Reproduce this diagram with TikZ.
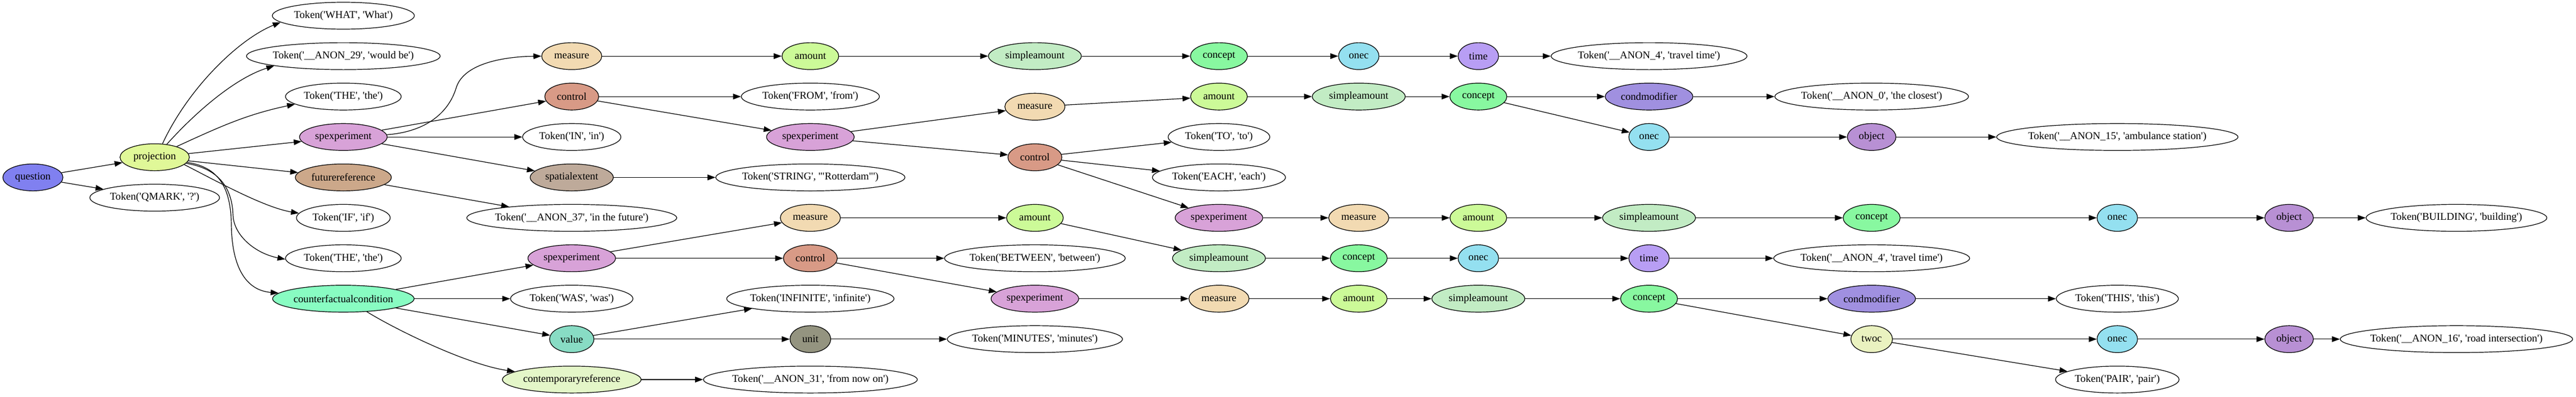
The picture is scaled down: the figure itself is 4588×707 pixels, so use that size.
\documentclass[tikz,border=0pt]{standalone}
\usepackage{fontspec}
\setmainfont{Liberation Serif}[Ligatures=TeXOff]
\usetikzlibrary{shapes.geometric,arrows.meta}
\definecolor{cquest}{HTML}{8080F0}
\definecolor{cproj}{HTML}{E0F898}
\definecolor{cspx}{HTML}{D8A2D8}
\definecolor{cfut}{HTML}{CCA88A}
\definecolor{ccfc}{HTML}{88FCC2}
\definecolor{cmeas}{HTML}{F2DAB2}
\definecolor{cctrl}{HTML}{D89A86}
\definecolor{cspat}{HTML}{BEAA9A}
\definecolor{cval}{HTML}{88DCC4}
\definecolor{ccont}{HTML}{E4F6C8}
\definecolor{camt}{HTML}{CCFA98}
\definecolor{csamt}{HTML}{C2ECC4}
\definecolor{cconc}{HTML}{88F8A0}
\definecolor{conec}{HTML}{94E0F0}
\definecolor{ctime}{HTML}{B89EF4}
\definecolor{ccmod}{HTML}{A090E0}
\definecolor{cobj}{HTML}{B890D4}
\definecolor{cunit}{HTML}{949480}
\definecolor{ctwoc}{HTML}{EAF2C0}
\newcommand{\lb}[1]{\makebox[0pt]{#1}}
\begin{document}
\begin{tikzpicture}[x=0.75pt,y=-0.75pt,
  nd/.style={ellipse, draw=black, line width=0.9pt, minimum height=36pt, inner sep=0pt, font=\fontsize{14}{16}\selectfont},
  tok/.style={nd, fill=white, minimum width=#1},
  squest/.style={nd, fill=cquest, minimum width=80.25pt},
  sproj/.style={nd, fill=cproj, minimum width=92.6pt},
  sspx/.style={nd, fill=cspx, minimum width=117pt},
  sfut/.style={nd, fill=cfut, minimum width=128.25pt},
  scfc/.style={nd, fill=ccfc, minimum width=189pt},
  smeas/.style={nd, fill=cmeas, minimum width=80.25pt},
  sctrl/.style={nd, fill=cctrl, minimum width=72pt},
  sspat/.style={nd, fill=cspat, minimum width=111pt},
  sval/.style={nd, fill=cval, minimum width=59.25pt},
  scont/.style={nd, fill=ccont, minimum width=185.25pt},
  samt/.style={nd, fill=camt, minimum width=75.75pt},
  ssamt/.style={nd, fill=csamt, minimum width=124.1pt},
  sconc/.style={nd, fill=cconc, minimum width=76.1pt},
  sonec/.style={nd, fill=conec, minimum width=54pt},
  stime/.style={nd, fill=ctime, minimum width=54pt},
  scmod/.style={nd, fill=ccmod, minimum width=117pt},
  sobj/.style={nd, fill=cobj, minimum width=64.9pt},
  sunit/.style={nd, fill=cunit, minimum width=54.4pt},
  stwoc/.style={nd, fill=ctwoc, minimum width=55.5pt},
  edge/.style={draw=black, line width=0.9pt, -{Triangle[length=10.5pt,width=7.5pt]}},
]
\useasboundingbox (0,0) rectangle (4588,707);
% column 0/1
\node[squest] (question) at (58.6,316.4) {\lb{question}};
\node[sproj] (proj) at (275.5,280.4) {\lb{projection}};
\node[tok=173.25pt] (qmark) at (275.5,352.5) {\lb{Token('QMARK', '?')}};
% column 2
\node[tok=189.75pt] (what) at (611.5,28) {\lb{Token('WHAT', 'What')}};
\node[tok=258.75pt] (anon29) at (611.5,100.1) {\lb{Token('\_\_ANON\_29', 'would be')}};
\node[tok=154.5pt] (the1) at (611.5,172.2) {\lb{Token('THE', 'the')}};
\node[sspx] (spx1) at (611.5,244.3) {\lb{spexperiment}};
\node[sfut] (futref) at (611.5,316.4) {\lb{futurereference}};
\node[tok=125.25pt] (tif) at (611.5,388.5) {\lb{Token('IF', 'if')}};
\node[tok=154.5pt] (the2) at (611.5,460.6) {\lb{Token('THE', 'the')}};
\node[scfc] (cfc) at (611.5,532.7) {\lb{counterfactualcondition}};
% column 3
\node[smeas] (meas1) at (1018.3,100.1) {\lb{measure}};
\node[sctrl] (ctrl1) at (1018.3,172.2) {\lb{control}};
\node[tok=131.25pt] (tin) at (1018.3,244.3) {\lb{Token('IN', 'in')}};
\node[sspat] (spat) at (1018.3,316.4) {\lb{spatialextent}};
\node[tok=280.5pt] (anon37) at (1018.3,388.5) {\lb{Token('\_\_ANON\_37', 'in the future')}};
\node[sspx] (spx2) at (1018.3,460.6) {\lb{spexperiment}};
\node[tok=163.5pt] (was) at (1018.3,532.7) {\lb{Token('WAS', 'was')}};
\node[sval] (value) at (1018.3,604.8) {\lb{value}};
\node[scont] (contemp) at (1018.3,676.9) {\lb{contemporaryreference}};
% column 4
\node[samt] (amt1) at (1443.3,100.1) {\lb{amount}};
\node[tok=184.5pt] (from) at (1443.3,172.2) {\lb{Token('FROM', 'from')}};
\node[sspx] (spx3) at (1443.3,244.3) {\lb{spexperiment}};
\node[tok=252.75pt] (rott) at (1443.3,316.4) {\lb{Token('STRING', '"Rotterdam"')}};
\node[smeas] (meas2) at (1443.3,388.5) {\lb{measure}};
\node[sctrl] (ctrl2) at (1443.3,460.6) {\lb{control}};
\node[tok=223.5pt] (infin) at (1443.3,532.7) {\lb{Token('INFINITE', 'infinite')}};
\node[sunit] (unit) at (1443.3,604.8) {\lb{unit}};
\node[tok=285.75pt] (anon31) at (1443.3,676.9) {\lb{Token('\_\_ANON\_31', 'from now on')}};
% column 5
\node[ssamt] (samt1) at (1843.2,100.1) {\lb{simpleamount}};
\node[smeas] (meas3) at (1843.2,190.3) {\lb{measure}};
\node[sctrl] (ctrl3) at (1843.2,280.5) {\lb{control}};
\node[samt] (amt2) at (1843.2,388.5) {\lb{amount}};
\node[tok=241.5pt] (betw) at (1843.2,460.6) {\lb{Token('BETWEEN', 'between')}};
\node[sspx] (spx4) at (1843.2,532.7) {\lb{spexperiment}};
\node[tok=234pt] (minutes) at (1843.2,604.8) {\lb{Token('MINUTES', 'minutes')}};
% column 6
\node[sconc] (conc1) at (2171,100.1) {\lb{concept}};
\node[samt] (amt3) at (2171,172.2) {\lb{amount}};
\node[tok=135.75pt] (tto) at (2171,244.3) {\lb{Token('TO', 'to')}};
\node[tok=177.75pt] (each) at (2171,316.4) {\lb{Token('EACH', 'each')}};
\node[sspx] (spx5) at (2171,388.5) {\lb{spexperiment}};
\node[ssamt] (samt2) at (2171,460.6) {\lb{simpleamount}};
\node[smeas] (meas4) at (2171,532.7) {\lb{measure}};
% column 7
\node[sonec] (onec1) at (2420,100.1) {\lb{onec}};
\node[ssamt] (samt3) at (2420,172.2) {\lb{simpleamount}};
\node[smeas] (meas5) at (2420,388.5) {\lb{measure}};
\node[sconc] (conc2) at (2420,460.6) {\lb{concept}};
\node[samt] (amt4) at (2420,532.7) {\lb{amount}};
% column 8
\node[stime] (time1) at (2633,100.1) {\lb{time}};
\node[sconc] (conc3) at (2633,172.2) {\lb{concept}};
\node[samt] (amt5) at (2633,388.5) {\lb{amount}};
\node[sonec] (onec2) at (2633,460.6) {\lb{onec}};
\node[ssamt] (samt4) at (2633,532.7) {\lb{simpleamount}};
% column 9
\node[tok=261.75pt] (anon4a) at (2937,100.1) {\lb{Token('\_\_ANON\_4', 'travel time')}};
\node[scmod] (cmod1) at (2937,172.2) {\lb{condmodifier}};
\node[sonec] (onec3) at (2937,244.3) {\lb{onec}};
\node[ssamt] (samt5) at (2937,388.5) {\lb{simpleamount}};
\node[stime] (time2) at (2937,460.6) {\lb{time}};
\node[sconc] (conc4) at (2937,532.7) {\lb{concept}};
% column 10
\node[tok=258.75pt] (anon0) at (3333.5,172.2) {\lb{Token('\_\_ANON\_0', 'the closest')}};
\node[sobj] (obj1) at (3333.5,244.3) {\lb{object}};
\node[sconc] (conc5) at (3333.5,388.5) {\lb{concept}};
\node[tok=261.75pt] (anon4b) at (3333.5,460.6) {\lb{Token('\_\_ANON\_4', 'travel time')}};
\node[scmod] (cmod2) at (3333.5,532.7) {\lb{condmodifier}};
\node[stwoc] (twoc) at (3333.5,604.8) {\lb{twoc}};
% column 11
\node[tok=322.5pt] (anon15) at (3771,244.3) {\lb{Token('\_\_ANON\_15', 'ambulance station')}};
\node[sonec] (onec4) at (3771,388.5) {\lb{onec}};
\node[tok=163.1pt] (this) at (3771,532.7) {\lb{Token('THIS', 'this')}};
\node[sonec] (onec5) at (3771,604.8) {\lb{onec}};
\node[tok=165pt] (pair) at (3771,676.9) {\lb{Token('PAIR', 'pair')}};
% column 12/13
\node[sobj] (obj2) at (4077,388.5) {\lb{object}};
\node[sobj] (obj3) at (4077,604.8) {\lb{object}};
\node[tok=241.5pt] (build) at (4375,388.5) {\lb{Token('BUILDING', 'building')}};
\node[tok=310.5pt] (anon16) at (4375,604.8) {\lb{Token('\_\_ANON\_16', 'road intersection')}};

% edges
\draw[edge] (question) -- (proj);
\draw[edge] (question) -- (qmark);
\draw[edge] (proj.60) .. controls (335.5,157) and (425,70) .. (what.186);
\draw[edge] (proj.47) .. controls (356.8,191) and (424,137.5) .. (anon29.188);
\draw[edge] (proj.26) .. controls (394.6,224.5) and (440,204) .. (the1.189);
\draw[edge] (proj) -- (spx1);
\draw[edge] (proj) -- (futref);
\draw[edge] (proj.-14) .. controls (380,320) and (470,370) .. (tif.174);
\draw[edge] (proj.-11) .. controls (385,300) and (413,330) .. (415,383) .. controls (416,420) and (455,452) .. (the2.181);
\draw[edge] (proj.-9) .. controls (390,298) and (411,335) .. (412,400) .. controls (413,480) and (440,518) .. (cfc.175);

\draw[edge] (spx1.3) .. controls (760,235) and (800,200) .. (813,155) .. controls (828,112) and (900,101) .. (meas1.west);
\draw[edge] (spx1) -- (ctrl1);
\draw[edge] (spx1) -- (tin);
\draw[edge] (spx1) -- (spat);
\draw[edge] (futref) -- (anon37);

\draw[edge] (meas1) -- (amt1);
\draw[edge] (amt1) -- (samt1);
\draw[edge] (samt1) -- (conc1);
\draw[edge] (conc1) -- (onec1);
\draw[edge] (onec1) -- (time1);
\draw[edge] (time1) -- (anon4a);

\draw[edge] (ctrl1) -- (from);
\draw[edge] (ctrl1) -- (spx3);
\draw[edge] (spat) -- (rott);
\draw[edge] (spx3) -- (meas3);
\draw[edge] (spx3) -- (ctrl3);
\draw[edge] (meas3) -- (amt3);
\draw[edge] (amt3) -- (samt3);
\draw[edge] (samt3) -- (conc3);
\draw[edge] (conc3) -- (cmod1);
\draw[edge] (cmod1) -- (anon0);
\draw[edge] (conc3) -- (onec3);
\draw[edge] (onec3) -- (obj1);
\draw[edge] (obj1) -- (anon15);
\draw[edge] (ctrl3) -- (tto);
\draw[edge] (ctrl3) -- (each);
\draw[edge] (ctrl3) -- (spx5);
\draw[edge] (spx5) -- (meas5);
\draw[edge] (meas5) -- (amt5);
\draw[edge] (amt5) -- (samt5);
\draw[edge] (samt5) -- (conc5);
\draw[edge] (conc5) -- (onec4);
\draw[edge] (onec4) -- (obj2);
\draw[edge] (obj2) -- (build);

\draw[edge] (cfc) -- (spx2);
\draw[edge] (cfc) -- (was);
\draw[edge] (cfc) -- (value);
\draw[edge] (cfc.-29) .. controls (700,585) and (830,650) .. (contemp.172);
\draw[edge] (spx2) -- (meas2);
\draw[edge] (spx2) -- (ctrl2);
\draw[edge] (meas2) -- (amt2);
\draw[edge] (amt2) -- (samt2);
\draw[edge] (samt2) -- (conc2);
\draw[edge] (conc2) -- (onec2);
\draw[edge] (onec2) -- (time2);
\draw[edge] (time2) -- (anon4b);
\draw[edge] (ctrl2) -- (betw);
\draw[edge] (ctrl2) -- (spx4);
\draw[edge] (spx4) -- (meas4);
\draw[edge] (meas4) -- (amt4);
\draw[edge] (amt4) -- (samt4);
\draw[edge] (samt4) -- (conc4);
\draw[edge] (conc4) -- (cmod2);
\draw[edge] (cmod2) -- (this);
\draw[edge] (conc4) -- (twoc);
\draw[edge] (twoc) -- (onec5);
\draw[edge] (onec5) -- (obj3);
\draw[edge] (obj3) -- (anon16);
\draw[edge] (twoc) -- (pair);
\draw[edge] (value) -- (infin);
\draw[edge] (value) -- (unit);
\draw[edge] (unit) -- (minutes);
\draw[edge] (contemp) -- (anon31);
\end{tikzpicture}
\end{document}
